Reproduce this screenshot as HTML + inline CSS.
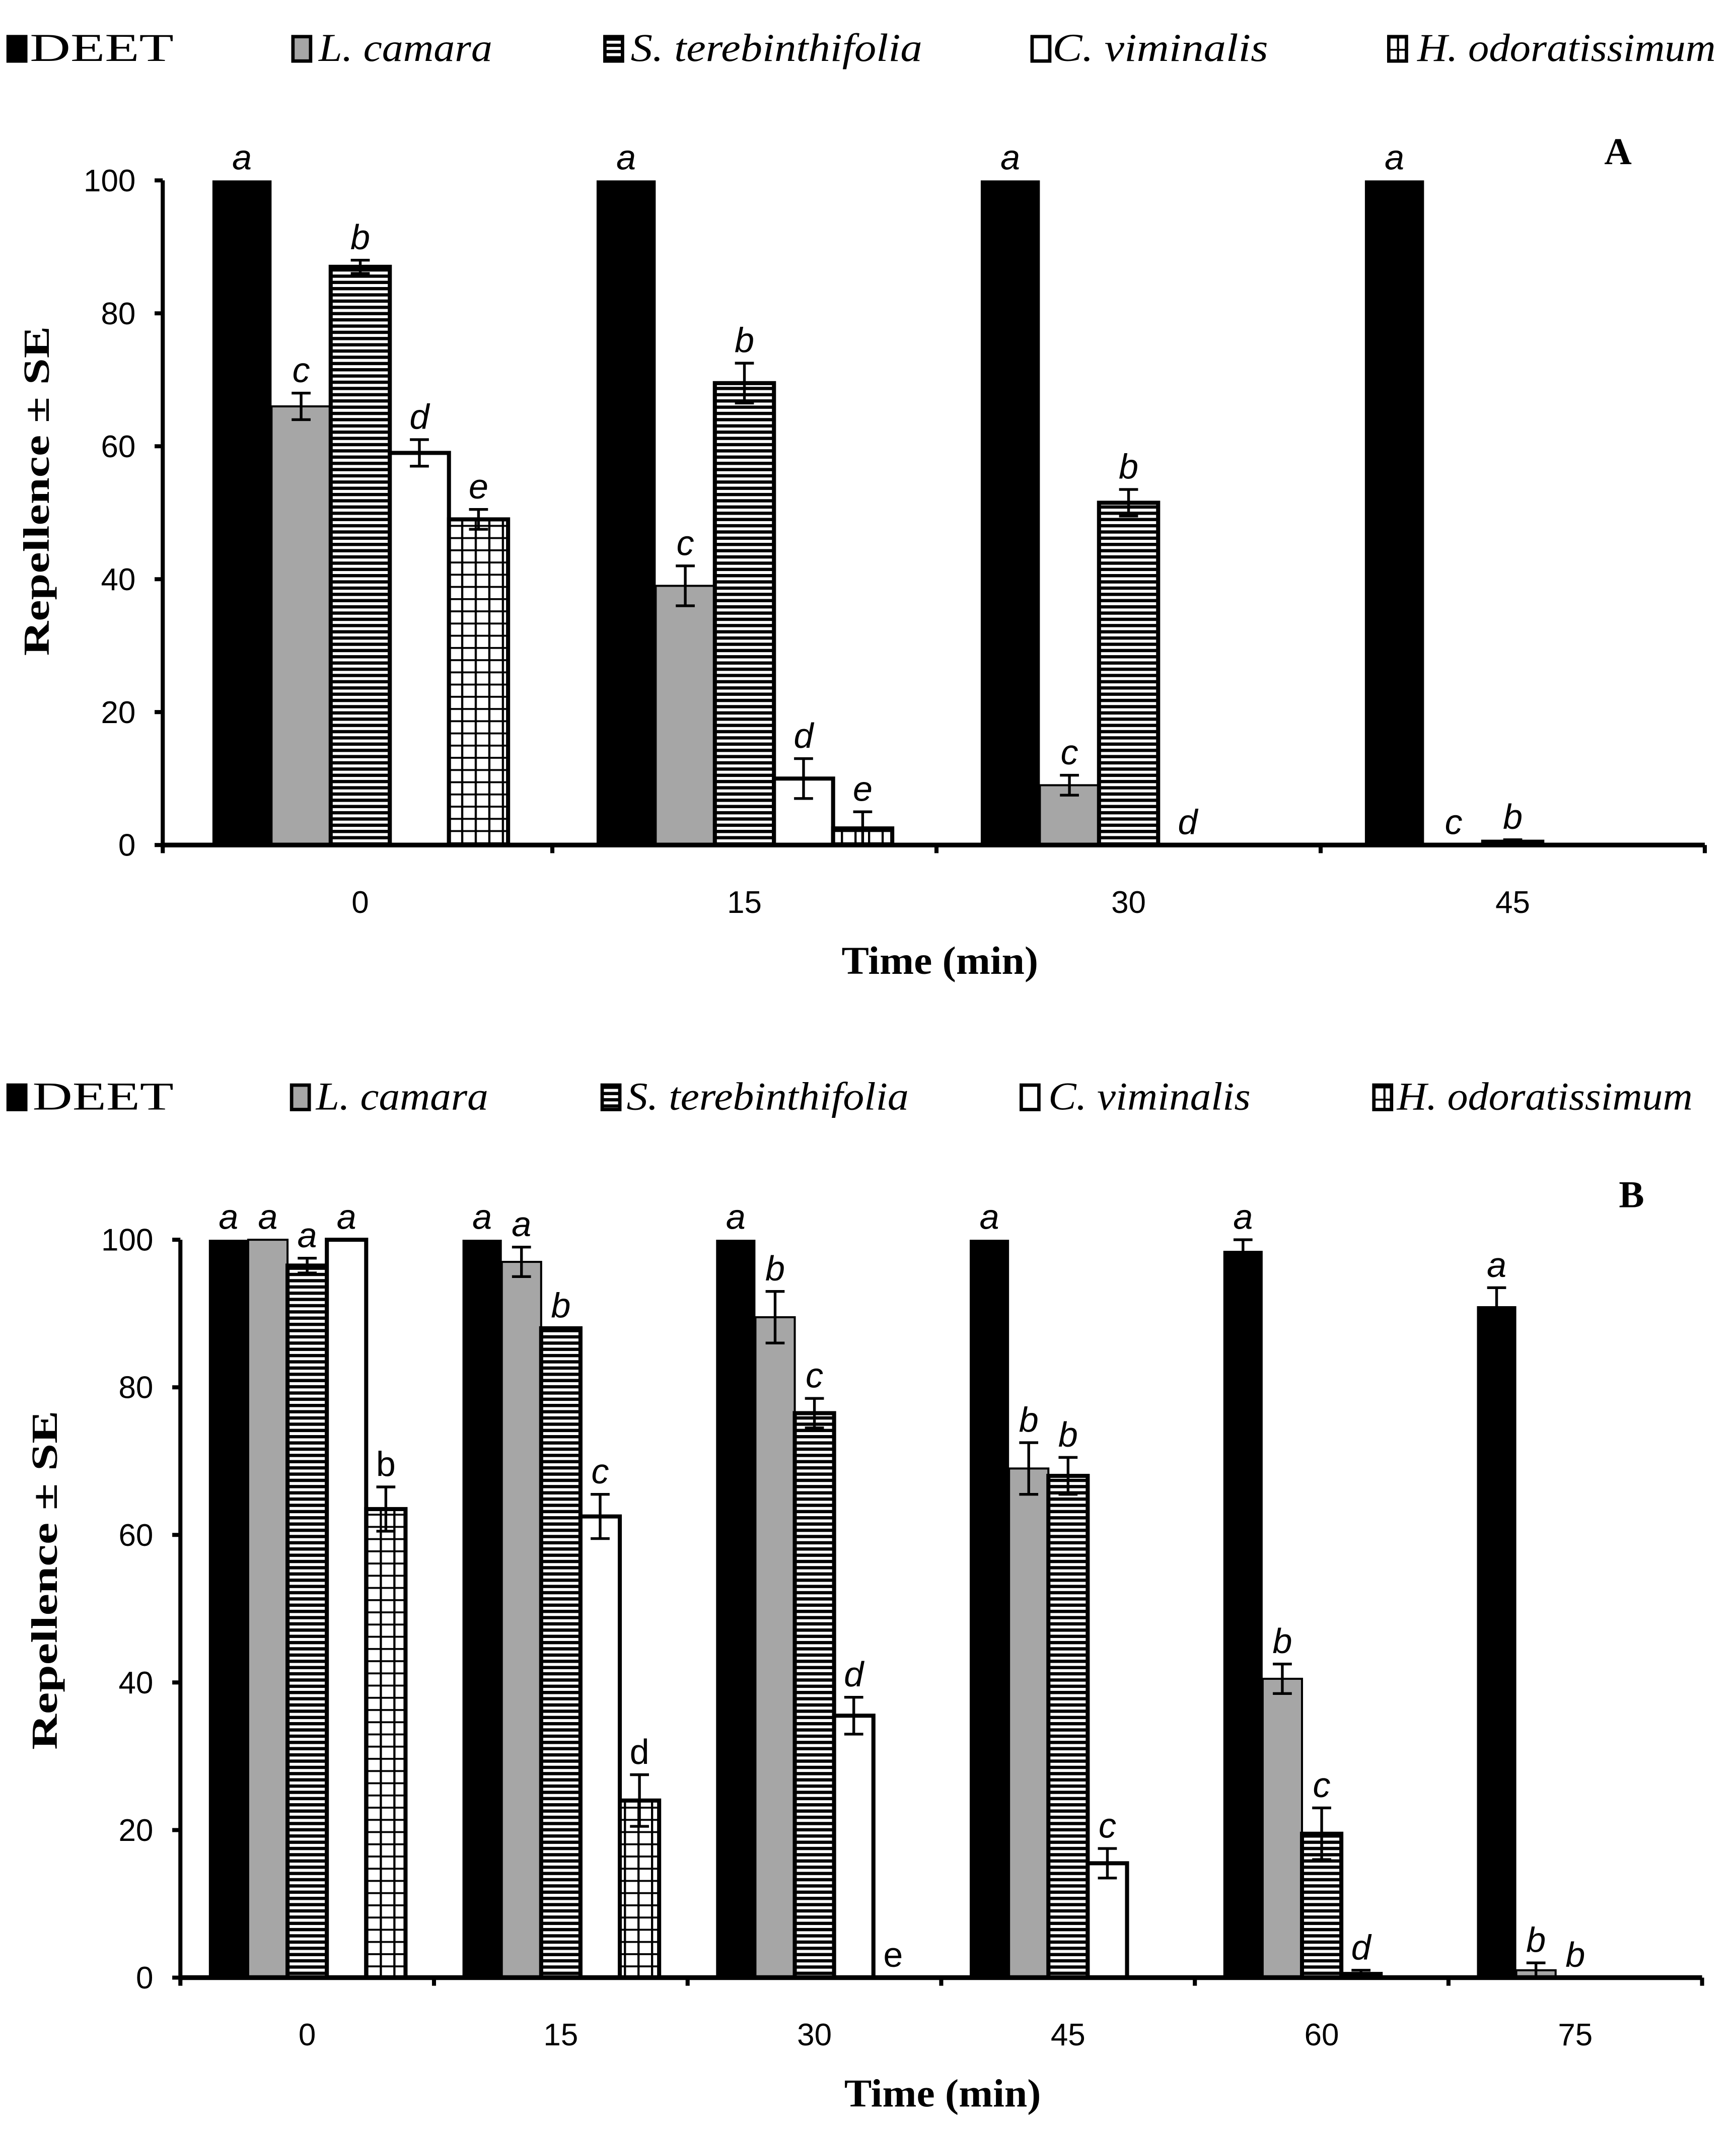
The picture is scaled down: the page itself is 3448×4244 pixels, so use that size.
<!DOCTYPE html>
<html><head><meta charset="utf-8"><style>html,body{margin:0;padding:0;background:#fff}svg{display:block}</style></head>
<body>
<svg id="root" width="3448" height="4244" viewBox="0 0 1280 1575.5" preserveAspectRatio="none" xmlns="http://www.w3.org/2000/svg">
<defs>
<pattern id="hstripe" patternUnits="userSpaceOnUse" width="10" height="4.6"><rect width="10" height="4.6" fill="#fff"/><rect width="10" height="2.4" fill="#000"/></pattern>
<pattern id="grid" patternUnits="userSpaceOnUse" width="10" height="9"><rect width="10" height="9" fill="#fff"/><rect width="10" height="1.4" fill="#000"/><rect width="1.6" height="9" fill="#000"/></pattern>
</defs>
<rect width="1280" height="1575.5" fill="#fff"/>
<g id="chartA"></g>
<g id="chartB"></g>
</svg>
<script>
const seriesNames = ["DEET","L. camara","S. terebinthifolia","C. viminalis","H. odoratissimum"];
const catsA = ["0","15","30","45"];
const deetA = [100,100,100,100];
const lcamA = [66,39,9,0];
const sterA = [87,69.5,51.5,0.5];
const cvimA = [59,10,0,0];
const hodoA = [49,2.5,0,0];
const errA = [[0,0,0,0],[2,3,1.5,0],[1,3,2,0.3],[2,3,0,0],[1.5,2.5,0,0]];
const lettersA = [["a","a","a","a"],["c","c","c","c"],["b","b","b","b"],["d","d","d",""],["e","e","",""]];
const catsB = ["0","15","30","45","60","75"];
const deetB = [100,100,100,100,98.5,91];
const lcamB = [100,97,89.5,69,40.5,1];
const sterB = [96.5,88,76.5,68,19.5,0];
const cvimB = [100,62.5,35.5,15.5,0.5,0];
const hodoB = [63.5,24,0,0,0,0];
const errB = [[0,0,0,0,1.5,2.5],[0,2,3.5,3.5,2,1],[1,0,2,2.5,3.5,0],[0,3,2.5,2,0.5,0],[3,3.5,0,0,0,0]];
const lettersB = [["a","a","a","a","a","a"],["a","a","b","b","b","b"],["a","b","c","b","c","b"],["a","c","d","c","d",""],["b","d","e","","",""]];
const yTicks = [0,20,40,60,80,100];

const NS="http://www.w3.org/2000/svg";
function mk(parent,tag,attrs,text){const e=document.createElementNS(NS,tag);for(const k in attrs)e.setAttribute(k,attrs[k]);if(text!==undefined)e.textContent=text;parent.appendChild(e);return e;}
const fills=["#000","#a6a6a6","url(#hstripe)","#fff","url(#grid)"];

function legend(g,y,sq,tx,tl){
  seriesNames.forEach((n,i)=>{
    const r=mk(g,"rect",{x:sq[i],y:y-18,width:13,height:18,fill:fills[i],stroke:"#000","stroke-width":2.5});
    
    
    const t=mk(g,"text",{x:tx[i],y:y,"font-family":"Liberation Serif, serif","font-size":29,"font-style":i===0?"normal":"italic",textLength:tl[i],lengthAdjust:"spacingAndGlyphs"},n);
    
    
  });
}

function chart(g,o){
  const yv=v=>o.y0-(o.y0-o.y100)*v/100;
  const n=o.cats.length, step=(o.x1-o.x0)/n;
  const ya=mk(g,"line",{x1:o.xa,y1:o.y100,x2:o.xa,y2:o.y0+2,stroke:"#000","stroke-width":3});
  
  yTicks.forEach(t=>{
    mk(g,"line",{x1:o.xa-6,y1:yv(t),x2:o.xa,y2:yv(t),stroke:"#000","stroke-width":3});
    const l=mk(g,"text",{x:o.xa-20,y:yv(t)+8,"text-anchor":"end","font-family":"Liberation Sans, sans-serif","font-size":23},String(t));
    
  });
  const bw=o.bw;
  o.vals.forEach((arr,s)=>{
    arr.forEach((v,c)=>{
      const cx=o.x0+step*(c+0.5), x=cx-bw*2.5+bw*s;
      if(v>0.3){
        const r=mk(g,"rect",{x:x,y:yv(v),width:bw,height:o.y0-yv(v),fill:fills[s],stroke:"#000","stroke-width":s===0?0:(s===1?1.5:3)});
        
      }
      const e=o.err[s][c], bx=x+bw/2;
      if(e>0){
        mk(g,"line",{x1:bx,y1:yv(v+e),x2:bx,y2:yv(v-e),stroke:"#000","stroke-width":2});
        mk(g,"line",{x1:bx-7,y1:yv(v+e),x2:bx+7,y2:yv(v+e),stroke:"#000","stroke-width":2});
        mk(g,"line",{x1:bx-7,y1:yv(v-e),x2:bx+7,y2:yv(v-e),stroke:"#000","stroke-width":2});
      }
      const L=o.letters[s][c];
      if(L){
        const up=o.upright&&o.upright.some(p=>p[0]===s&&p[1]===c);
        const lt=mk(g,"text",{x:bx,y:yv(v+e)-8,"text-anchor":"middle","font-family":"Liberation Sans, sans-serif","font-size":26,"font-style":up?"normal":"italic"},L);
        
      }
    });
  });
  const xa=mk(g,"line",{x1:o.xa,y1:o.y0,x2:o.x1,y2:o.y0,stroke:"#000","stroke-width":3.5});
  
  for(let i=0;i<=n;i++){const tx=i===0?o.xa:o.x0+step*i; mk(g,"line",{x1:tx,y1:o.y0,x2:tx,y2:o.y0+6,stroke:"#000","stroke-width":3});}
  o.cats.forEach((c,i)=>{
    const t=mk(g,"text",{x:o.x0+step*(i+0.5),y:o.y0+50,"text-anchor":"middle","font-family":"Liberation Sans, sans-serif","font-size":23},c);
    
  });
  const xt=mk(g,"text",{x:o.xtx,y:o.xty,"text-anchor":"middle","font-family":"Liberation Serif, serif","font-size":29,"font-weight":"bold",textLength:145,lengthAdjust:"spacingAndGlyphs"},"Time (min)");
  
  const yt=mk(g,"text",{x:0,y:0,transform:`translate(${o.ytx},${o.yty}) rotate(-90)`,"text-anchor":"middle","font-family":"Liberation Serif, serif","font-size":27,"font-weight":"bold",textLength:o.ytl,lengthAdjust:"spacingAndGlyphs"},"Repellence ± SE");
  
  const pl=mk(g,"text",{x:o.plx,y:o.ply,"text-anchor":"middle","font-family":"Liberation Serif, serif","font-size":28,"font-weight":"bold"},o.panel);
  
}

const gA=document.getElementById('chartA'), gB=document.getElementById('chartB');
legend(gA,45,[6,216,446,761,1024],[22,235,465,776,1045],[106,128,215,159,220]);
chart(gA,{xa:120,x0:124,x1:1257,y0:623,y100:133,bw:43.6,cats:catsA,vals:[deetA,lcamA,sterA,cvimA,hodoA],err:errA,letters:lettersA,
  xtx:693,xty:718,ytx:36,yty:362,ytl:243,panel:"A",plx:1193,ply:121});
legend(gB,818,[6,215,444,753,1013],[24,233,462,773,1030],[104,127,208,149,218]);
chart(gB,{xa:133,x0:133,x1:1255,y0:1458,y100:914,bw:29,cats:catsB,vals:[deetB,lcamB,sterB,cvimB,hodoB],err:errB,letters:lettersB,
  upright:[[4,0],[4,1],[4,2]],xtx:695,xty:1553,ytx:42,yty:1165,ytl:250,panel:"B",plx:1203,ply:890});
</script>
</body></html>
